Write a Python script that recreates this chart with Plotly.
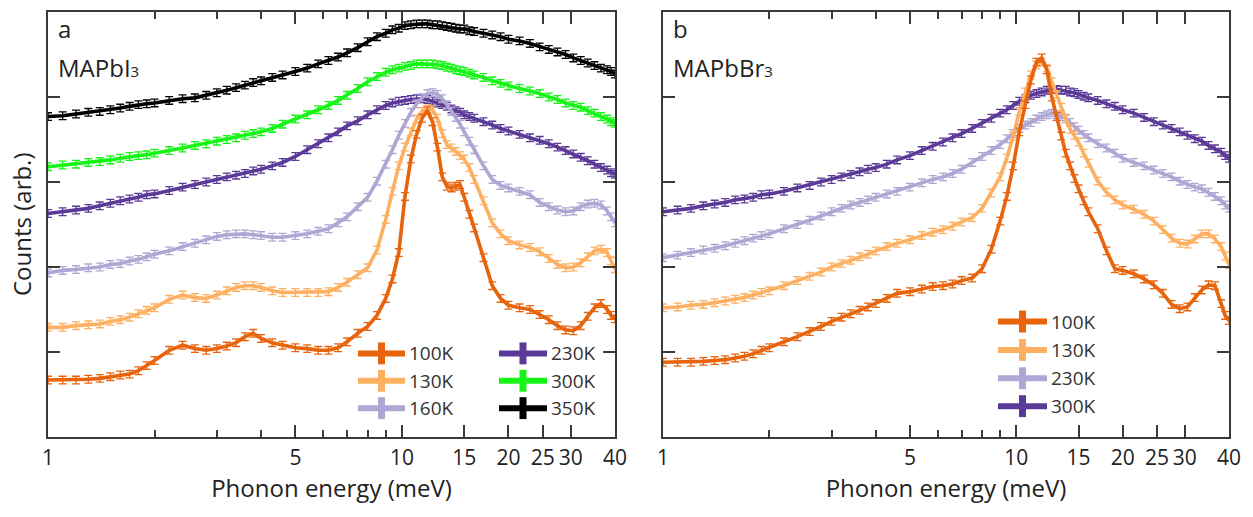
import plotly.graph_objects as go

# Phonon energy grid (meV), shared by every spectrum
energy = [
    1.0, 1.1, 1.2, 1.3, 1.4, 1.5, 1.6, 1.7, 1.8, 1.9,
    2.0, 2.2, 2.4, 2.6, 2.8, 3.0, 3.2, 3.4, 3.6, 3.8,
    4.0, 4.3, 4.6, 5.0, 5.4, 5.8, 6.2, 6.6, 7.0, 7.5,
    8.0, 8.5, 9.0, 9.4, 9.8, 10.2, 10.6, 11.0, 11.4, 11.8,
    12.2, 12.6, 13.0, 13.4, 13.8, 14.2, 14.6, 15.0, 15.5, 16.0,
    17, 18, 19, 20, 21.5, 23, 24.5, 26, 27.5, 29,
    30.5, 32, 33.5, 35, 36.5, 38, 39, 40,
]

# MAPbI3 spectra (offset counts, arb.)
mapbi3_100K = [
    0.67, 0.67, 0.67, 0.68, 0.69, 0.71, 0.73, 0.74, 0.78, 0.84,
    0.90, 1.02, 1.08, 1.04, 1.02, 1.04, 1.07, 1.11, 1.18, 1.22,
    1.16, 1.11, 1.08, 1.05, 1.04, 1.02, 1.02, 1.05, 1.12, 1.22,
    1.30, 1.43, 1.63, 1.86, 2.17, 2.83, 3.27, 3.56, 3.75, 3.84,
    3.71, 3.41, 3.06, 2.95, 2.93, 2.95, 2.97, 2.82, 2.62, 2.46,
    2.11, 1.78, 1.63, 1.55, 1.52, 1.50, 1.44, 1.38, 1.31, 1.26,
    1.25, 1.31, 1.42, 1.52, 1.57, 1.50, 1.43, 1.39,
]
mapbi3_130K = [
    1.29, 1.29, 1.31, 1.32, 1.33, 1.36, 1.38, 1.41, 1.45, 1.49,
    1.52, 1.62, 1.67, 1.64, 1.63, 1.67, 1.72, 1.76, 1.78, 1.78,
    1.76, 1.72, 1.70, 1.70, 1.70, 1.70, 1.71, 1.76, 1.82, 1.91,
    1.99, 2.20, 2.56, 2.89, 3.19, 3.41, 3.59, 3.74, 3.83, 3.86,
    3.85, 3.75, 3.57, 3.44, 3.40, 3.36, 3.31, 3.27, 3.17, 3.03,
    2.78, 2.52, 2.39, 2.31, 2.26, 2.23, 2.18, 2.10, 2.03, 1.99,
    2.00, 2.05, 2.12, 2.19, 2.21, 2.17, 2.07, 1.98,
]
mapbi3_160K = [
    1.93, 1.96, 1.97, 1.99, 2.00, 2.03, 2.04, 2.07, 2.09, 2.12,
    2.15, 2.19, 2.24, 2.28, 2.32, 2.36, 2.38, 2.39, 2.39, 2.38,
    2.37, 2.35, 2.35, 2.37, 2.39, 2.42, 2.45, 2.52, 2.59, 2.71,
    2.82, 3.01, 3.21, 3.38, 3.55, 3.69, 3.82, 3.92, 3.99, 4.04,
    4.05, 4.03, 3.98, 3.91, 3.83, 3.76, 3.68, 3.59, 3.48, 3.38,
    3.19, 3.03, 2.96, 2.93, 2.89, 2.85, 2.76, 2.71, 2.67, 2.65,
    2.66, 2.71, 2.74, 2.75, 2.73, 2.66, 2.59, 2.52,
]
mapbi3_230K = [
    2.63, 2.65, 2.67, 2.69, 2.72, 2.75, 2.78, 2.80, 2.82, 2.85,
    2.86, 2.90, 2.94, 2.97, 3.00, 3.03, 3.06, 3.08, 3.10, 3.13,
    3.15, 3.19, 3.23, 3.30, 3.38, 3.45, 3.52, 3.59, 3.66, 3.72,
    3.79, 3.85, 3.90, 3.93, 3.95, 3.96, 3.97, 3.98, 3.98, 3.97,
    3.95, 3.93, 3.91, 3.89, 3.86, 3.84, 3.82, 3.79, 3.77, 3.75,
    3.71, 3.67, 3.63, 3.60, 3.56, 3.52, 3.49, 3.45, 3.41, 3.37,
    3.33, 3.29, 3.25, 3.21, 3.17, 3.14, 3.11, 3.09,
]
mapbi3_300K = [
    3.18, 3.20, 3.21, 3.23, 3.24, 3.26, 3.28, 3.30, 3.31, 3.32,
    3.34, 3.37, 3.40, 3.43, 3.45, 3.48, 3.50, 3.52, 3.55, 3.57,
    3.59, 3.63, 3.68, 3.74, 3.79, 3.85, 3.90, 3.96, 4.02, 4.10,
    4.18, 4.24, 4.29, 4.32, 4.34, 4.36, 4.37, 4.39, 4.39, 4.39,
    4.39, 4.38, 4.37, 4.35, 4.34, 4.32, 4.31, 4.30, 4.28, 4.26,
    4.23, 4.19, 4.16, 4.13, 4.10, 4.07, 4.04, 4.00, 3.97, 3.93,
    3.90, 3.88, 3.84, 3.81, 3.77, 3.74, 3.71, 3.69,
]
mapbi3_350K = [
    3.77, 3.78, 3.80, 3.82, 3.83, 3.85, 3.87, 3.89, 3.91, 3.92,
    3.93, 3.96, 3.98, 3.99, 4.02, 4.05, 4.08, 4.11, 4.14, 4.17,
    4.19, 4.23, 4.26, 4.30, 4.34, 4.39, 4.43, 4.47, 4.52, 4.58,
    4.65, 4.71, 4.75, 4.79, 4.81, 4.84, 4.85, 4.86, 4.86, 4.86,
    4.85, 4.85, 4.84, 4.83, 4.82, 4.81, 4.80, 4.80, 4.78, 4.77,
    4.75, 4.73, 4.71, 4.68, 4.66, 4.63, 4.59, 4.56, 4.53, 4.50,
    4.46, 4.43, 4.40, 4.37, 4.34, 4.32, 4.30, 4.27,
]

# MAPbBr3 spectra (offset counts, arb.)
mapbbr3_100K = [
    0.88, 0.88, 0.88, 0.89, 0.90, 0.91, 0.93, 0.95, 0.98, 1.02,
    1.05, 1.12, 1.18, 1.24, 1.30, 1.36, 1.41, 1.45, 1.49, 1.53,
    1.57, 1.63, 1.69, 1.71, 1.74, 1.77, 1.78, 1.80, 1.84, 1.87,
    1.98, 2.21, 2.54, 2.83, 3.19, 3.59, 3.91, 4.20, 4.41, 4.46,
    4.32, 4.00, 3.77, 3.54, 3.34, 3.19, 3.04, 2.92, 2.78, 2.65,
    2.45, 2.19, 1.98, 1.96, 1.92, 1.86, 1.79, 1.69, 1.56, 1.51,
    1.53, 1.64, 1.73, 1.79, 1.78, 1.57, 1.43, 1.37,
]
mapbbr3_130K = [
    1.52, 1.53, 1.55, 1.56, 1.58, 1.60, 1.62, 1.64, 1.67, 1.70,
    1.72, 1.78, 1.84, 1.89, 1.94, 2.00, 2.04, 2.08, 2.12, 2.15,
    2.19, 2.24, 2.28, 2.32, 2.37, 2.41, 2.44, 2.48, 2.53, 2.58,
    2.69, 2.87, 3.06, 3.28, 3.54, 3.83, 4.06, 4.26, 4.38, 4.41,
    4.34, 4.18, 4.03, 3.88, 3.74, 3.62, 3.55, 3.47, 3.34, 3.22,
    3.01, 2.88, 2.79, 2.73, 2.68, 2.62, 2.54, 2.44, 2.34, 2.28,
    2.27, 2.33, 2.39, 2.39, 2.33, 2.24, 2.13, 2.03,
]
mapbbr3_230K = [
    2.11, 2.14, 2.17, 2.20, 2.22, 2.25, 2.28, 2.31, 2.34, 2.37,
    2.39, 2.45, 2.50, 2.55, 2.60, 2.65, 2.69, 2.73, 2.76, 2.79,
    2.82, 2.86, 2.89, 2.94, 2.99, 3.03, 3.06, 3.10, 3.15, 3.23,
    3.30, 3.37, 3.44, 3.51, 3.57, 3.63, 3.67, 3.70, 3.74, 3.77,
    3.79, 3.81, 3.79, 3.77, 3.75, 3.70, 3.65, 3.61, 3.56, 3.52,
    3.45, 3.40, 3.34, 3.28, 3.23, 3.19, 3.14, 3.10, 3.06, 3.01,
    2.97, 2.94, 2.92, 2.88, 2.83, 2.78, 2.73, 2.69,
]
mapbbr3_300K = [
    2.65, 2.67, 2.69, 2.72, 2.74, 2.76, 2.79, 2.80, 2.82, 2.85,
    2.86, 2.89, 2.93, 2.96, 3.00, 3.03, 3.06, 3.09, 3.12, 3.15,
    3.17, 3.21, 3.26, 3.31, 3.37, 3.42, 3.47, 3.52, 3.57, 3.63,
    3.69, 3.75, 3.81, 3.85, 3.90, 3.95, 3.98, 4.02, 4.04, 4.06,
    4.08, 4.09, 4.09, 4.08, 4.08, 4.06, 4.05, 4.03, 4.01, 3.99,
    3.96, 3.92, 3.89, 3.85, 3.81, 3.76, 3.71, 3.67, 3.63, 3.59,
    3.55, 3.51, 3.48, 3.43, 3.39, 3.35, 3.31, 3.28,
]

# Statistical uncertainty of each spectrum (same units as the counts)
uncertainty = 0.045

x_tick_vals = [1, 5, 10, 15, 20, 25, 30, 40]
x_tick_text = ["1", "5", "10", "15", "20", "25", "30", "40"]
x_minor_vals = [2, 3, 4, 6, 7, 8, 9]

COLORS = {
    "100K": "#E8640C",
    "130K": "#FDB061",
    "160K": "#B0A6D4",
    "230K": "#5B3A97",
    "300K": "#16F516",
    "350K": "#000000",
}
COLORS_B = {
    "100K": "#E8640C",
    "130K": "#FDB061",
    "230K": "#B0A6D4",
    "300K": "#5B3A97",
}

panel_a = [
    ("350K", mapbi3_350K),
    ("300K", mapbi3_300K),
    ("230K", mapbi3_230K),
    ("160K", mapbi3_160K),
    ("130K", mapbi3_130K),
    ("100K", mapbi3_100K),
]
panel_b = [
    ("300K", mapbbr3_300K),
    ("230K", mapbbr3_230K),
    ("130K", mapbbr3_130K),
    ("100K", mapbbr3_100K),
]

FONT = "Open Sans"
TEXT = "#222222"
AXIS = "#3a3a3a"

W, H = 1253, 517
M_L, M_R, M_T, M_B = 48, 24, 10, 80
PW, PH = W - M_L - M_R, H - M_T - M_B


def px(x):
    return (x - M_L) / PW


def py(y):
    return (M_T + PH - y) / PH


fig = go.Figure()


def add_spectra(series, colors, xa, ya):
    for name, vals in series:
        c = colors[name]
        fig.add_trace(go.Scatter(
            x=energy, y=vals, name=name, mode="lines",
            line=dict(color=c, width=3.6),
            error_y=dict(type="constant", value=uncertainty, color=c,
                         thickness=1.3, width=4),
            xaxis=xa, yaxis=ya, showlegend=False,
        ))


add_spectra(panel_a, COLORS, "x", "y")
add_spectra(panel_b, COLORS_B, "x2", "y2")

xaxis_common = dict(
    type="log", range=[0, 1.60206],
    tickmode="array", tickvals=x_tick_vals, ticktext=x_tick_text,
    ticks="inside", ticklen=12, tickwidth=1.5, tickcolor=AXIS,
    minor=dict(tickmode="array", tickvals=x_minor_vals, ticks="inside",
               ticklen=7, tickwidth=1.5, tickcolor=AXIS),
    showline=True, linecolor=AXIS, linewidth=2, mirror="ticks",
    showgrid=False, zeroline=False,
    tickfont=dict(family=FONT, size=21, color=TEXT),
    ticklabelstandoff=1,
    title=dict(text="Phonon energy (meV)", standoff=4,
               font=dict(family=FONT, size=24, color=TEXT)),
)
yaxis_common = dict(
    range=[0, 5], tickmode="array", tickvals=[1, 2, 3, 4],
    showticklabels=False,
    ticks="inside", ticklen=12, tickwidth=1.5, tickcolor=AXIS,
    showline=True, linecolor=AXIS, linewidth=2, mirror="ticks",
    showgrid=False, zeroline=False,
)

split_a = (615 - M_L) / PW
split_b = (663 - M_L) / PW

fig.update_layout(
    width=W, height=H,
    margin=dict(l=M_L, r=M_R, t=M_T, b=M_B),
    paper_bgcolor="white", plot_bgcolor="white",
    font=dict(family=FONT, color=TEXT),
    showlegend=False,
    xaxis=dict(domain=[0, split_a], anchor="y", **xaxis_common),
    xaxis2=dict(domain=[split_b, 1], anchor="y2", **xaxis_common),
    yaxis=dict(domain=[0, 1], anchor="x", **yaxis_common),
    yaxis2=dict(domain=[0, 1], anchor="x2", **yaxis_common),
)

# Vertical axis title
fig.add_annotation(x=px(21), y=py(223), xref="paper", yref="paper",
                   text="Counts (arb.)", textangle=-90, showarrow=False,
                   xanchor="center", yanchor="middle",
                   font=dict(family=FONT, size=24, color=TEXT))

# Panel labels (small baseline "3" in the formula)
small3 = '<span style="font-size:15px">3</span>'
for x0, letter, compound in [(56, "a", "MAPbI" + small3),
                             (671, "b", "MAPbBr" + small3)]:
    fig.add_annotation(x=px(x0), y=py(27), xref="paper", yref="paper",
                       text=letter, showarrow=False, xanchor="left",
                       yanchor="middle",
                       font=dict(family=FONT, size=24, color=TEXT))
    fig.add_annotation(x=px(x0), y=py(66), xref="paper", yref="paper",
                       text=compound, showarrow=False, xanchor="left",
                       yanchor="middle",
                       font=dict(family=FONT, size=24, color=TEXT))

# Legend keys: error-bar crosses with temperature labels
legend_groups = [
    (358, 405, [("100K", 353), ("130K", 380.5), ("160K", 408)], COLORS),
    (499, 547, [("230K", 353), ("300K", 380.5), ("350K", 408)], COLORS),
    (998, 1047, [("100K", 321), ("130K", 349.5), ("230K", 378),
                 ("300K", 406)], COLORS_B),
]
for x0, x1, entries, colors in legend_groups:
    xc = (x0 + x1) / 2
    for name, yc in entries:
        c = colors[name]
        fig.add_shape(type="line", xref="paper", yref="paper",
                      x0=px(x0), x1=px(x1), y0=py(yc), y1=py(yc),
                      line=dict(color=c, width=6))
        fig.add_shape(type="line", xref="paper", yref="paper",
                      x0=px(xc), x1=px(xc), y0=py(yc - 11), y1=py(yc + 11),
                      line=dict(color=c, width=7))
        fig.add_annotation(x=px(x1 + 2), y=py(yc), xref="paper",
                           yref="paper", text=name, showarrow=False,
                           xanchor="left", yanchor="middle",
                           font=dict(family=FONT, size=19, color="#333333"))

fig.write_html("out.html")
